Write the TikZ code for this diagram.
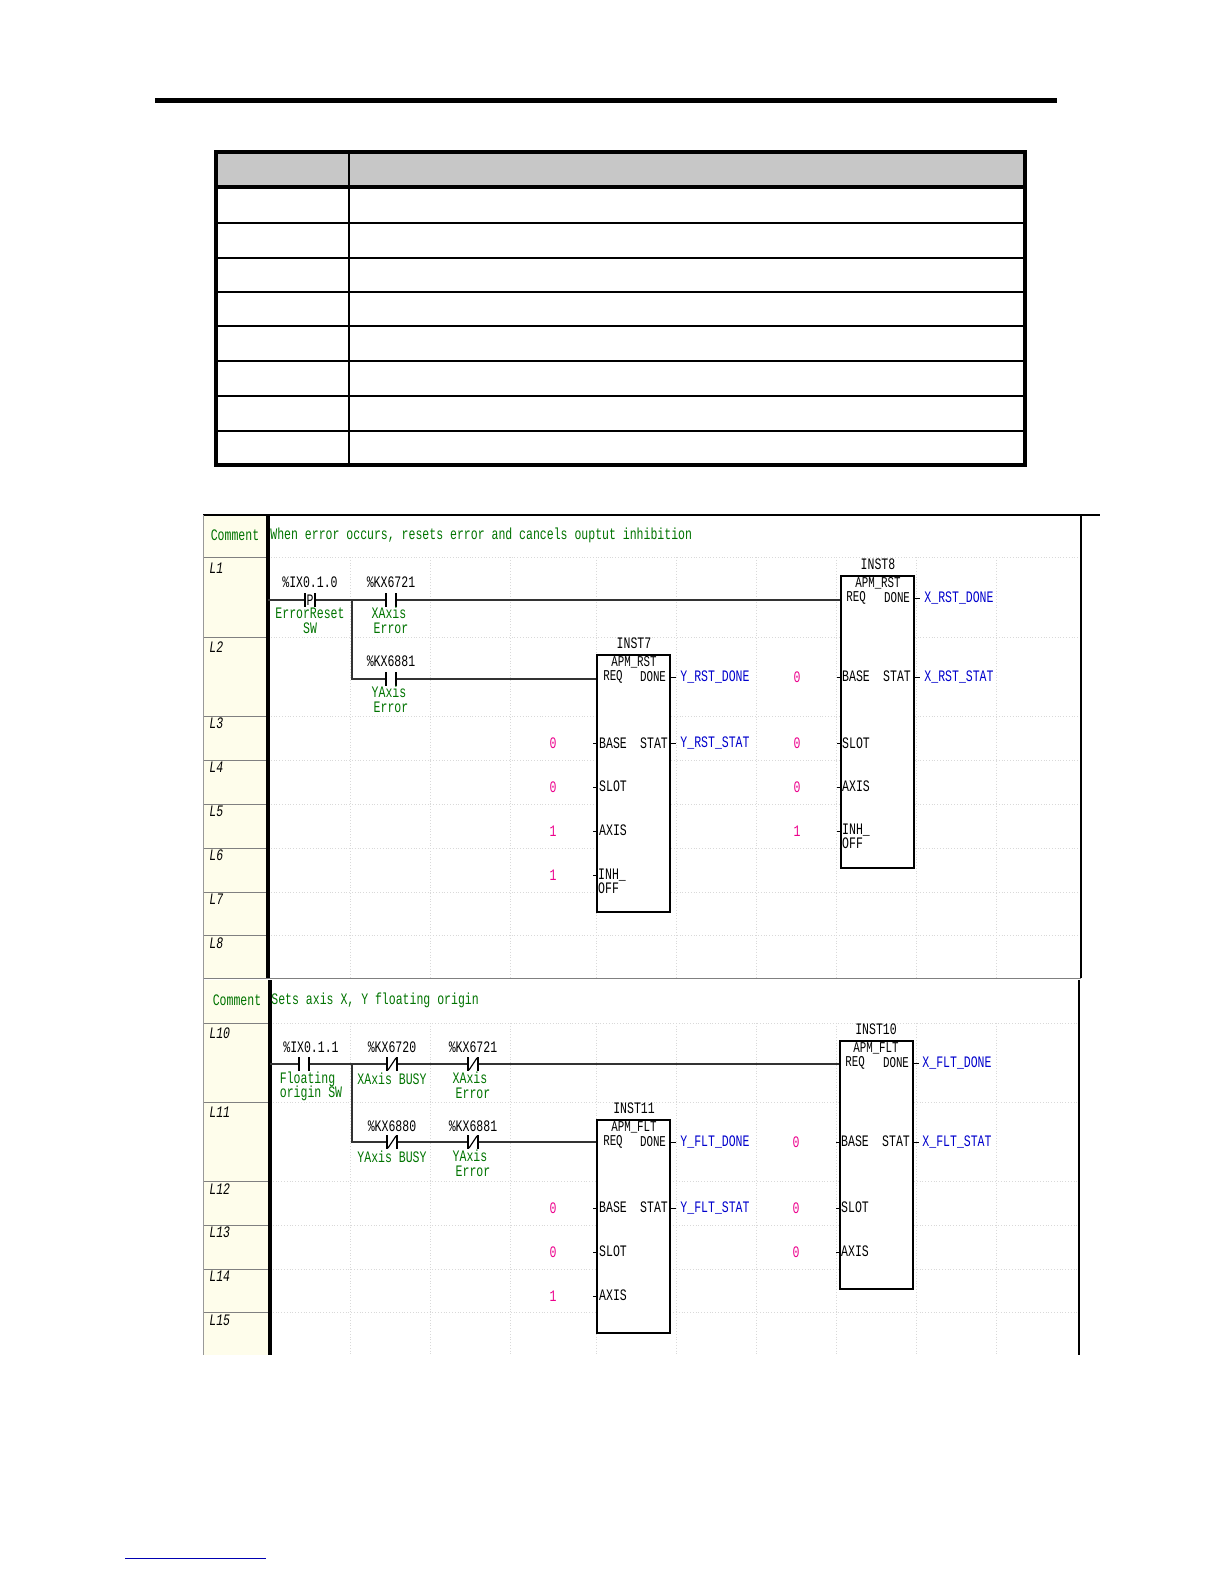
\documentclass[tikz,border=0pt]{standalone}
\usepackage{fontspec}
\newfontfamily\lad[FakeStretch=0.72]{Liberation Mono}
\newcommand\cont[3]{%
 \fill[white] (#1-5,#2-6) rectangle (#1+5,#2+6);%
 \draw[line width=0.7pt] (#1-5,#2-7) -- (#1-5,#2+7) (#1+5,#2-7) -- (#1+5,#2+7);%
 \ifx#3n\draw[line width=0.6pt] (#1-4,#2+6) -- (#1+4,#2-6);\fi
 \ifx#3p\node[kt] at (#1,#2) {P};\fi}
\begin{document}
\begin{tikzpicture}[x=0.5pt,y=-0.5pt,
 lt/.style={font=\lad\fontsize{8}{8}\selectfont,inner sep=0pt},
 gt/.style={lt,text=green!45!black},
 bt/.style={lt,text=blue!80!black},
 mt/.style={lt,text=magenta},
 kt/.style={lt,text=black},
 st/.style={lt,text=black,font=\lad\fontsize{7.5}{7.5}\selectfont},
 rung/.style={line width=0.8pt,black!80},
 grid/.style={black!15,densely dotted,line width=0.4pt},
 fb/.style={draw,line width=0.6pt,fill=white}]
\useasboundingbox (0,0) rectangle (1224,1584);
% top rule
\draw[line width=2.5pt] (155,101) -- (1057,101);
% table
\fill[black!22] (216,152) rectangle (1025,187);
\foreach \y in {187,223,258,292,326,361,396,431} \draw[line width=0.8pt] (216,\y) -- (1025,\y);
\draw[line width=1.6pt] (216,187) -- (1025,187);
\draw[line width=0.8pt] (349,152) -- (349,465);
\draw[line width=1.6pt] (216,152) rectangle (1025,465);
% ladder frame
\fill[black!8!yellow!8!white] (203,515) rectangle (268,978);
\fill[black!8!yellow!8!white] (203,980) rectangle (270,1355);
\draw[line width=0.6pt] (203,515) -- (1100,515);
\foreach \y in {557,637,716,760,804,848,892,935} {\draw[black!50] (203,\y) -- (268,\y); \draw[grid] (268,\y) -- (1081,\y);}
\foreach \y in {1023,1102,1181,1225,1269,1312} {\draw[black!50] (203,\y) -- (270,\y); \draw[grid] (270,\y) -- (1079,\y);}
\foreach \x in {350,430,510,596,676,756,836,916,996} {\draw[grid] (\x,557) -- (\x,978); \draw[grid] (\x,1023) -- (\x,1355);}
\draw[black!50] (203,978) -- (1081,978);
\draw[line width=1.6pt] (268,515) -- (268,978);
\draw[line width=1.6pt] (270,980) -- (270,1355);
\draw[line width=1.2pt] (1081,515) -- (1081,978);
\draw[line width=1.2pt] (1079,980) -- (1079,1355);
\draw[black!40] (203,515) -- (203,1355);
% row labels
\node[gt] (c1) at (235,535) {Comment};
\node[gt,anchor=west] (t1) at (270,535) {When error occurs, resets error and cancels ouptut inhibition};
\node[gt] (c2) at (237,1000) {Comment};
\node[gt,anchor=west] (t2) at (271,1000) {Sets axis X, Y floating origin};
\foreach \n/\y in {L1/568,L2/647,L3/723,L4/767,L5/811,L6/855,L7/899,L8/943,L10/1033,L11/1112,L12/1189,L13/1232,L14/1276,L15/1320}
 \node[kt,anchor=west,font=\lad\itshape\fontsize{8}{8}\selectfont] (r\n) at (209,\y) {\n};
% ---- rung 1 ----
\coordinate (a0) at (268,600); \coordinate (j1) at (352,600);
\draw[rung] (a0) -- (841,600);
\draw[rung] (j1) -- (352,679) -- (597,679);
\cont{310}{600}{p}\cont{391}{600}{o}\cont{391}{679}{o}
\node[kt] (k1) at (310,582) {\%IX0.1.0};
\node[gt] (k1a) at (310,613) {ErrorReset};
\node[gt] (k1b) at (310,628) {SW};
\node[kt] (k2) at (391,582) {\%KX6721};
\node[gt] (k2a) at (389,613) {XAxis};
\node[gt] (k2b) at (391,628) {Error};
\node[kt] (k3) at (391,661) {\%KX6881};
\node[gt] (k3a) at (389,692) {YAxis};
\node[gt] (k3b) at (391,707) {Error};
% INST7
\draw[fb] (597,655) rectangle (670,912);
\node[kt] (i7) at (634,643) {INST7};
\node[st] at (634,662) {APM\_RST};
\node[st] at (613,677) {REQ}; \node[st] at (653,677) {DONE};
\node[kt] at (613,743) {BASE}; \node[kt] at (654,743) {STAT};
\node[kt] at (613,786) {SLOT}; \node[kt] at (613,830) {AXIS};
\node[kt,align=left] at (612,881) {INH\_\\[-1pt]OFF};
\node[bt] (o1) at (715,677) {Y\_RST\_DONE};
\node[bt] (o2) at (715,743) {Y\_RST\_STAT};
\foreach \y in {677,743} \draw (670,\y) -- (676,\y);
\foreach \v/\y in {0/743,0/787,1/831,1/875} {\node[mt] at (553,\y) {\v}; \draw (593,\y) -- (597,\y);}
% INST8
\draw[fb] (841,576) rectangle (914,868);
\node[kt] (i8) at (878,564) {INST8};
\node[st] at (878,583) {APM\_RST};
\node[st] at (856,598) {REQ}; \node[st] at (897,598) {DONE};
\node[kt] at (856,676) {BASE}; \node[kt] at (897,676) {STAT};
\node[kt] at (856,743) {SLOT}; \node[kt] at (856,786) {AXIS};
\node[kt,align=left] at (856,836) {INH\_\\[-1pt]OFF};
\node[bt] (o3) at (959,598) {X\_RST\_DONE};
\node[bt] (o4) at (959,677) {X\_RST\_STAT};
\foreach \y in {598,677} \draw (914,\y) -- (920,\y);
\foreach \v/\y in {0/677,0/743,0/787,1/831} {\node[mt] at (797,\y) {\v}; \draw (837,\y) -- (841,\y);}
% ---- rung 2 ----
\draw[rung] (270,1064) -- (840,1064);
\draw[rung] (352,1064) -- (352,1142) -- (597,1142);
\cont{304}{1064}{o}\cont{392}{1064}{n}\cont{473}{1064}{n}\cont{392}{1142}{n}\cont{473}{1142}{n}
\node[kt] at (311,1047) {\%IX0.1.1};
\node[gt,align=left] at (311,1086) {Floating\\[-1pt]origin SW};
\node[kt] at (392,1047) {\%KX6720};
\node[gt] at (392,1079) {XAxis BUSY};
\node[kt] at (473,1047) {\%KX6721};
\node[gt] at (470,1078) {XAxis}; \node[gt] at (473,1093) {Error};
\node[kt] at (392,1126) {\%KX6880};
\node[gt] at (392,1157) {YAxis BUSY};
\node[kt] at (473,1126) {\%KX6881};
\node[gt] at (470,1156) {YAxis}; \node[gt] at (473,1171) {Error};
% INST11
\draw[fb] (597,1120) rectangle (670,1333);
\node[kt] (i11) at (634,1108) {INST11};
\node[st] at (634,1127) {APM\_FLT};
\node[st] at (613,1142) {REQ}; \node[st] at (653,1142) {DONE};
\node[kt] at (613,1207) {BASE}; \node[kt] at (654,1207) {STAT};
\node[kt] at (613,1251) {SLOT}; \node[kt] at (613,1295) {AXIS};
\node[bt] at (715,1142) {Y\_FLT\_DONE};
\node[bt] at (715,1208) {Y\_FLT\_STAT};
\foreach \y in {1142,1208} \draw (670,\y) -- (676,\y);
\foreach \v/\y in {0/1208,0/1252,1/1296} {\node[mt] at (553,\y) {\v}; \draw (593,\y) -- (597,\y);}
% INST10
\draw[fb] (840,1041) rectangle (913,1289);
\node[kt] (i10) at (876,1029) {INST10};
\node[st] at (876,1048) {APM\_FLT};
\node[st] at (855,1063) {REQ}; \node[st] at (896,1063) {DONE};
\node[kt] at (855,1141) {BASE}; \node[kt] at (896,1141) {STAT};
\node[kt] at (855,1207) {SLOT}; \node[kt] at (855,1251) {AXIS};
\node[bt] at (957,1063) {X\_FLT\_DONE};
\node[bt] at (957,1142) {X\_FLT\_STAT};
\foreach \y in {1063,1142} \draw (913,\y) -- (919,\y);
\foreach \v/\y in {0/1142,0/1208,0/1252} {\node[mt] at (796,\y) {\v}; \draw (836,\y) -- (840,\y);}
% footer link line
\draw[blue!70!black,line width=0.5pt] (125,1558) -- (266,1558);
\end{tikzpicture}
\end{document}
